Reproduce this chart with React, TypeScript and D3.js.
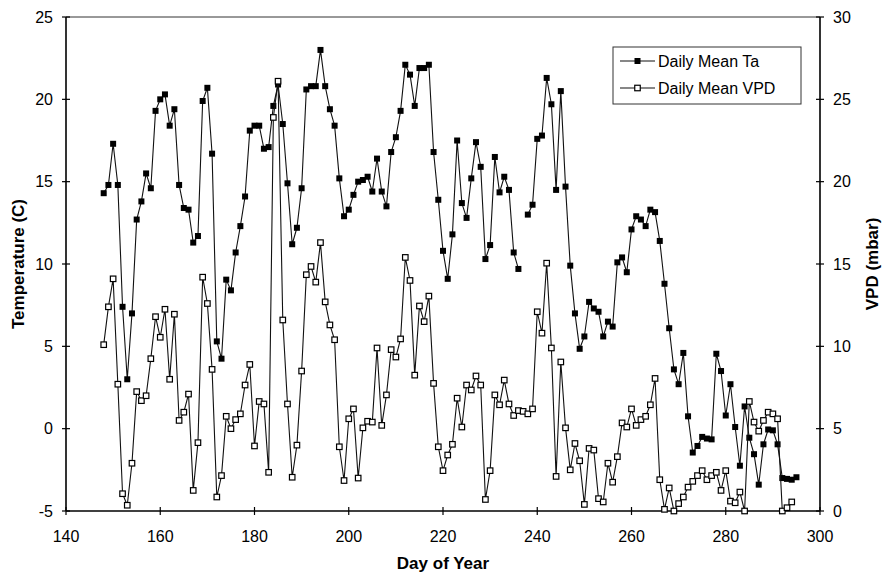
import { useEffect, useRef } from "react";
import * as d3 from "d3";

// day of year of the first value in each series; one value per day after that
const firstDay = 148;

// Daily Mean Ta (C), day 237 missing
const taValues: (number | null)[] = [
  14.3, 14.8, 17.3, 14.8, 7.4, 3.0, 7.0, 12.7, 13.8, 15.5,
  14.6, 19.3, 20.0, 20.3, 18.4, 19.4, 14.8, 13.4, 13.3, 11.3,
  11.7, 19.9, 20.7, 16.7, 5.3, 4.25, 9.05, 8.4, 10.7, 12.3,
  14.1, 18.1, 18.4, 18.4, 17.0, 17.1, 19.6, 20.9, 18.5, 14.9,
  11.2, 12.2, 14.6, 20.6, 20.8, 20.8, 23.0, 20.8, 19.4, 18.4,
  15.2, 12.9, 13.3, 14.2, 15.0, 15.1, 15.3, 14.4, 16.4, 14.4,
  13.5, 16.8, 17.7, 19.3, 22.1, 21.5, 19.6, 21.9, 21.9, 22.1,
  16.8, 13.9, 10.8, 9.1, 11.8, 17.5, 13.7, 12.8, 15.2, 17.4,
  15.9, 10.3, 11.15, 16.5, 14.35, 15.3, 14.5, 10.7, 9.7, null,
  13.0, 13.6, 17.6, 17.8, 21.3, 19.7, 14.5, 20.5, 14.7, 9.9,
  7.0, 4.85, 5.6, 7.7, 7.3, 7.1, 5.6, 6.5, 6.2, 10.1,
  10.4, 9.5, 12.1, 12.9, 12.7, 12.3, 13.3, 13.15, 11.4, 8.8,
  6.1, 3.6, 2.7, 4.6, 0.75, -1.45, -1.05, -0.5, -0.6, -0.65,
  4.55, 3.5, 0.8, 2.7, 0.1, -2.25, 1.35, -0.55, -1.55, -3.4,
  -0.95, -0.05, -0.1, -0.95, -3.0, -3.05, -3.1, -2.95,
];

// Daily Mean VPD (mbar)
const vpdValues: number[] = [
  10.1, 12.4, 14.1, 7.7, 1.05, 0.35, 2.9, 7.25, 6.7, 7.0,
  9.25, 11.8, 10.55, 12.25, 8.0, 11.95, 5.5, 6.0, 7.1, 1.25,
  4.15, 14.2, 12.6, 8.6, 0.85, 2.15, 5.75, 5.0, 5.55, 5.9,
  7.65, 8.9, 3.95, 6.65, 6.5, 2.35, 23.9, 26.1, 11.6, 6.5,
  2.05, 4.0, 8.5, 14.35, 14.85, 13.9, 16.3, 12.7, 11.3, 10.4,
  3.9, 1.85, 5.6, 6.2, 2.0, 5.05, 5.45, 5.4, 9.9, 5.2,
  7.05, 9.8, 9.35, 10.45, 15.4, 14.0, 8.25, 12.45, 11.5, 13.05,
  7.75, 3.9, 2.45, 3.4, 4.05, 6.85, 5.1, 7.65, 7.35, 8.2,
  7.65, 0.7, 2.45, 7.05, 6.45, 7.95, 6.5, 5.8, 6.1, 6.05,
  5.9, 6.2, 12.1, 10.8, 15.05, 9.9, 2.1, 9.05, 5.05, 2.5,
  4.1, 3.05, 0.4, 3.8, 3.7, 0.75, 0.55, 2.9, 1.75, 3.3,
  5.35, 5.1, 6.2, 5.2, 5.55, 5.75, 6.45, 8.05, 1.9, 0.1,
  1.4, 0.0, 0.45, 0.85, 1.45, 1.8, 2.15, 2.45, 1.9, 2.15,
  2.35, 1.25, 2.45, 0.6, 0.5, 1.15, 0.0, 6.65, 5.4, 4.85,
  5.5, 6.0, 5.9, 5.6, 0.0, 0.2, 0.55,
];

const dayTicks = [140, 160, 180, 200, 220, 240, 260, 280, 300];
const tempTicks = [-5, 0, 5, 10, 15, 20, 25];
const vpdTicks = [0, 5, 10, 15, 20, 25, 30];
const legendLabels = ["Daily Mean Ta", "Daily Mean VPD"];

const FONT = "'Liberation Sans', Arial, Helvetica, sans-serif";

export default function App() {
  const svgRef = useRef<SVGSVGElement | null>(null);

  useEffect(() => {
    if (!svgRef.current) return;
    const width = 886;
    const height = 579;
    const left = 66, right = 820, top = 17, bottom = 511;

    const svg = d3.select(svgRef.current);
    svg.selectAll("*").remove();
    svg.attr("width", width).attr("height", height).style("font-family", FONT);

    const x = d3.scaleLinear().domain([140, 300]).range([left, right]);
    const yT = d3.scaleLinear().domain([-5, 25]).range([bottom, top]);
    const yV = d3.scaleLinear().domain([0, 30]).range([bottom, top]);

    // frame
    svg.append("line").attr("x1", left).attr("x2", right).attr("y1", top).attr("y2", top)
      .attr("stroke", "#333").attr("stroke-width", 1);
    svg.append("line").attr("x1", left).attr("x2", left).attr("y1", top).attr("y2", bottom)
      .attr("stroke", "#000").attr("stroke-width", 1.6);
    svg.append("line").attr("x1", right).attr("x2", right).attr("y1", top).attr("y2", bottom)
      .attr("stroke", "#000").attr("stroke-width", 1.6);
    svg.append("line").attr("x1", left).attr("x2", right).attr("y1", bottom).attr("y2", bottom)
      .attr("stroke", "#000").attr("stroke-width", 1.6);

    // x ticks
    dayTicks.forEach(d => {
      svg.append("line").attr("x1", x(d)).attr("x2", x(d)).attr("y1", bottom - 4).attr("y2", bottom + 4)
        .attr("stroke", "#000").attr("stroke-width", 1.2);
      svg.append("text").attr("x", x(d)).attr("y", bottom + 31).attr("text-anchor", "middle")
        .attr("font-size", 16).text(d);
    });
    tempTicks.forEach(t => {
      svg.append("line").attr("x1", left - 4).attr("x2", left + 4).attr("y1", yT(t)).attr("y2", yT(t))
        .attr("stroke", "#000").attr("stroke-width", 1.2);
      svg.append("text").attr("x", left - 13).attr("y", yT(t)).attr("dy", "0.35em").attr("text-anchor", "end")
        .attr("font-size", 16).text(t);
    });
    vpdTicks.forEach(v => {
      svg.append("line").attr("x1", right - 4).attr("x2", right + 4).attr("y1", yV(v)).attr("y2", yV(v))
        .attr("stroke", "#000").attr("stroke-width", 1.2);
      svg.append("text").attr("x", right + 13).attr("y", yV(v)).attr("dy", "0.35em").attr("text-anchor", "start")
        .attr("font-size", 16).text(v);
    });

    // axis titles
    svg.append("text").attr("x", (left + right) / 2).attr("y", 569).attr("text-anchor", "middle")
      .attr("font-size", 17).attr("font-weight", 700).text("Day of Year");
    svg.append("text").attr("transform", `translate(24,${(top + bottom) / 2}) rotate(-90)`)
      .attr("text-anchor", "middle").attr("font-size", 17).attr("font-weight", 700).text("Temperature (C)");
    svg.append("text").attr("transform", `translate(878,${(top + bottom) / 2}) rotate(-90)`)
      .attr("text-anchor", "middle").attr("font-size", 17).attr("font-weight", 700).text("VPD (mbar)");

    const ta = taValues.map((v, i) => ({ day: firstDay + i, v }));
    const vpd = vpdValues.map((v, i) => ({ day: firstDay + i, v }));

    const taLine = d3.line<{ day: number; v: number | null }>()
      .defined(d => d.v != null)
      .x(d => x(d.day))
      .y(d => yT(d.v as number));
    const vpdLine = d3.line<{ day: number; v: number }>()
      .x(d => x(d.day))
      .y(d => yV(d.v));

    const s = 6;
    svg.append("path").datum(ta).attr("d", taLine).attr("fill", "none").attr("stroke", "#111").attr("stroke-width", 1.1);
    svg.append("g").selectAll("rect").data(ta.filter(d => d.v != null)).join("rect")
      .attr("x", d => x(d.day) - s / 2).attr("y", d => yT(d.v as number) - s / 2)
      .attr("width", s).attr("height", s).attr("fill", "#000");

    const so = 5.5;
    svg.append("path").datum(vpd).attr("d", vpdLine).attr("fill", "none").attr("stroke", "#111").attr("stroke-width", 1.1);
    svg.append("g").selectAll("rect").data(vpd).join("rect")
      .attr("x", d => x(d.day) - so / 2).attr("y", d => yV(d.v) - so / 2)
      .attr("width", so).attr("height", so).attr("fill", "#fff").attr("stroke", "#000").attr("stroke-width", 1.2);

    // legend
    const lg = svg.append("g");
    lg.append("rect").attr("x", 613).attr("y", 47).attr("width", 188).attr("height", 57)
      .attr("fill", "#fff").attr("stroke", "#333").attr("stroke-width", 1);
    legendLabels.forEach((label, i) => {
      const ly = 61 + i * 27;
      lg.append("line").attr("x1", 620).attr("x2", 655).attr("y1", ly).attr("y2", ly)
        .attr("stroke", "#111").attr("stroke-width", 1.1);
      if (i === 0) {
        lg.append("rect").attr("x", 637.5 - s / 2).attr("y", ly - s / 2).attr("width", s).attr("height", s).attr("fill", "#000");
      } else {
        lg.append("rect").attr("x", 637.5 - so / 2).attr("y", ly - so / 2).attr("width", so).attr("height", so)
          .attr("fill", "#fff").attr("stroke", "#000").attr("stroke-width", 1.2);
      }
      lg.append("text").attr("x", 658).attr("y", ly).attr("dy", "0.35em").attr("font-size", 16).text(label);
    });
  }, []);

  return <svg ref={svgRef} style={{ position: "absolute", left: 0, top: 0 }} />;
}
